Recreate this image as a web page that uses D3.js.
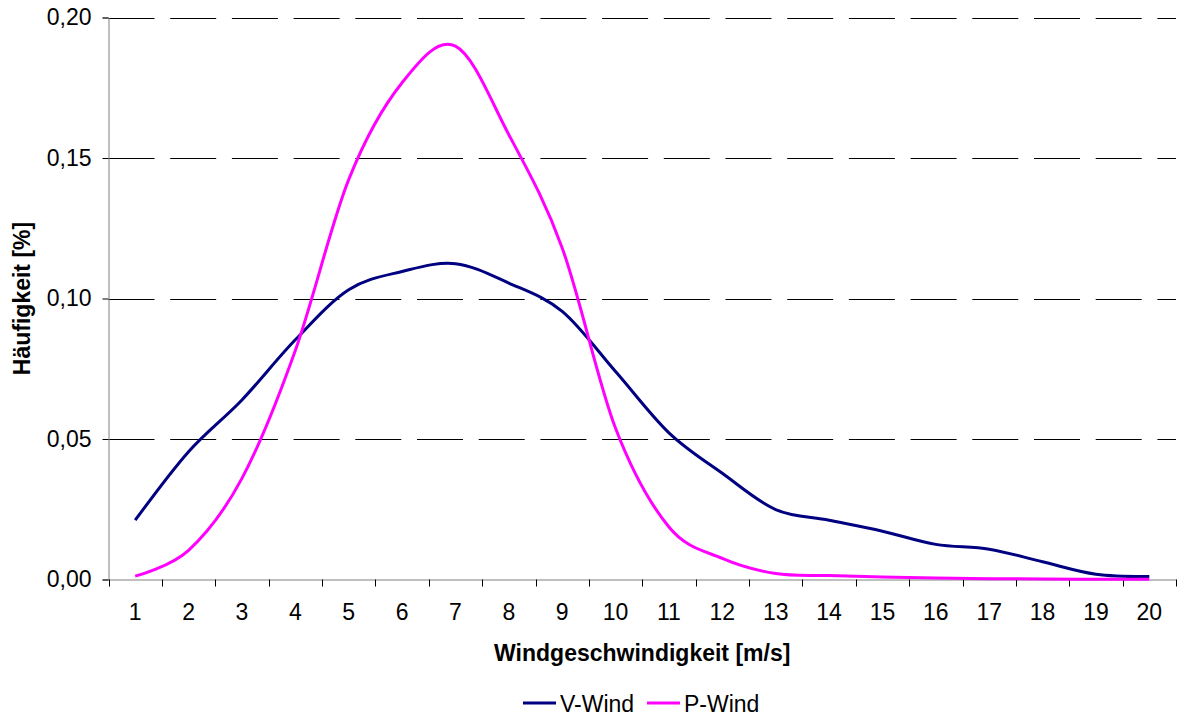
<!DOCTYPE html>
<html>
<head>
<meta charset="utf-8">
<script src="https://cdn.jsdelivr.net/npm/d3@7"></script>
<style>
  html, body { margin: 0; padding: 0; background: #fff; }
  svg { display: block; font-family: Arial, "Liberation Sans", sans-serif; }
</style>
</head>
<body>
<svg id="chart" width="1180" height="720"></svg>
<script>
const categories = ["1","2","3","4","5","6","7","8","9","10","11","12","13","14","15","16","17","18","19","20"];
const vWind = [0.0211, 0.0455, 0.0639, 0.0853, 0.1031, 0.1096, 0.1124, 0.1055, 0.0954, 0.0740, 0.0522, 0.0378, 0.0249, 0.0211, 0.0172, 0.0125, 0.0108, 0.0063, 0.0019, 0.0011];
const pWind = [0.0012, 0.0104, 0.0360, 0.0815, 0.1423, 0.1768, 0.1898, 0.1583, 0.1180, 0.0538, 0.0187, 0.0075, 0.0021, 0.0014, 0.0009, 0.0005, 0.0003, 0.0002, 0.0001, 0.0001];
const yTicks = [0, 0.05, 0.10, 0.15, 0.20];
const seriesNames = ["V-Wind", "P-Wind"];
const seriesColors = ["#000080", "#FF00FF"];

const svg = d3.select("#chart");
const plotLeft = 108.5, plotRight = 1176, plotTop = 17.5, plotBottom = 579.5;
const fontSize = 23;

const x = d3.scaleBand().domain(categories).range([plotLeft, plotRight]).padding(0);
const y = d3.scaleLinear().domain([0, 0.20]).range([plotBottom, plotTop]);
const fmt = v => d3.format(".2f")(v).replace(".", ",");

// gridlines
svg.append("g").selectAll("line").data(yTicks.filter(d => d > 0)).join("line")
  .attr("x1", plotLeft).attr("x2", plotRight)
  .attr("y1", d => Math.round(y(d)) + 0.5).attr("y2", d => Math.round(y(d)) + 0.5)
  .attr("stroke", "#000").attr("stroke-width", 1)
  .attr("stroke-dasharray", "46,15.7");

// y axis
const yAxis = d3.axisLeft(y).tickValues(yTicks).tickSize(6).tickPadding(11).tickFormat(fmt);
const gy = svg.append("g").attr("transform", `translate(${plotLeft},0)`).call(yAxis);
gy.select(".domain").attr("stroke", "#808080");
gy.selectAll(".tick line").attr("stroke", "#000");
gy.selectAll(".tick text").attr("font-size", fontSize).attr("fill", "#000")
  .attr("font-family", "Arial, 'Liberation Sans', sans-serif");

// x axis
const xAxis = d3.axisBottom(x).tickSize(0).tickPadding(0);
const gx = svg.append("g").attr("transform", `translate(0,${plotBottom})`).call(xAxis);
gx.select(".domain").attr("stroke", "#808080");
gx.selectAll(".tick text").attr("font-size", fontSize).attr("fill", "#000")
  .attr("font-family", "Arial, 'Liberation Sans', sans-serif")
  .attr("dy", null).attr("y", 40.5);
// boundary tick marks
const bounds = categories.map(c => x(c)).concat([x(categories[categories.length - 1]) + x.bandwidth()]);
gx.append("g").selectAll("line").data(bounds).join("line")
  .attr("x1", d => Math.round(d) + 0.5).attr("x2", d => Math.round(d) + 0.5)
  .attr("y1", 0).attr("y2", 7).attr("stroke", "#000");

// lines
const line = d3.line()
  .x((d, i) => x(categories[i]) + x.bandwidth() / 2)
  .y(d => y(d))
  .curve(d3.curveCardinal.tension(0));
[vWind, pWind].forEach((s, k) => {
  svg.append("path").datum(s)
    .attr("fill", "none")
    .attr("stroke", seriesColors[k])
    .attr("stroke-width", 3)
    .attr("stroke-linejoin", "round")
    .attr("d", line);
});

// axis titles
svg.append("text").attr("x", (plotLeft + plotRight) / 2).attr("y", 661)
  .attr("text-anchor", "middle").attr("font-size", fontSize).attr("font-weight", "bold")
  .text("Windgeschwindigkeit [m/s]");
svg.append("text").attr("transform", `translate(30,${(plotTop + plotBottom) / 2}) rotate(-90)`)
  .attr("text-anchor", "middle").attr("font-size", fontSize).attr("font-weight", "bold")
  .text("Häufigkeit [%]");

// legend
const legendItems = [
  { name: seriesNames[0], color: seriesColors[0], lx: 523 },
  { name: seriesNames[1], color: seriesColors[1], lx: 647 }
];
const lg = svg.append("g");
legendItems.forEach(it => {
  lg.append("line").attr("x1", it.lx).attr("x2", it.lx + 33)
    .attr("y1", 703).attr("y2", 703).attr("stroke", it.color).attr("stroke-width", 3);
  lg.append("text").attr("x", it.lx + 37).attr("y", 711.5)
    .attr("font-size", fontSize).text(it.name);
});
</script>
</body>
</html>
